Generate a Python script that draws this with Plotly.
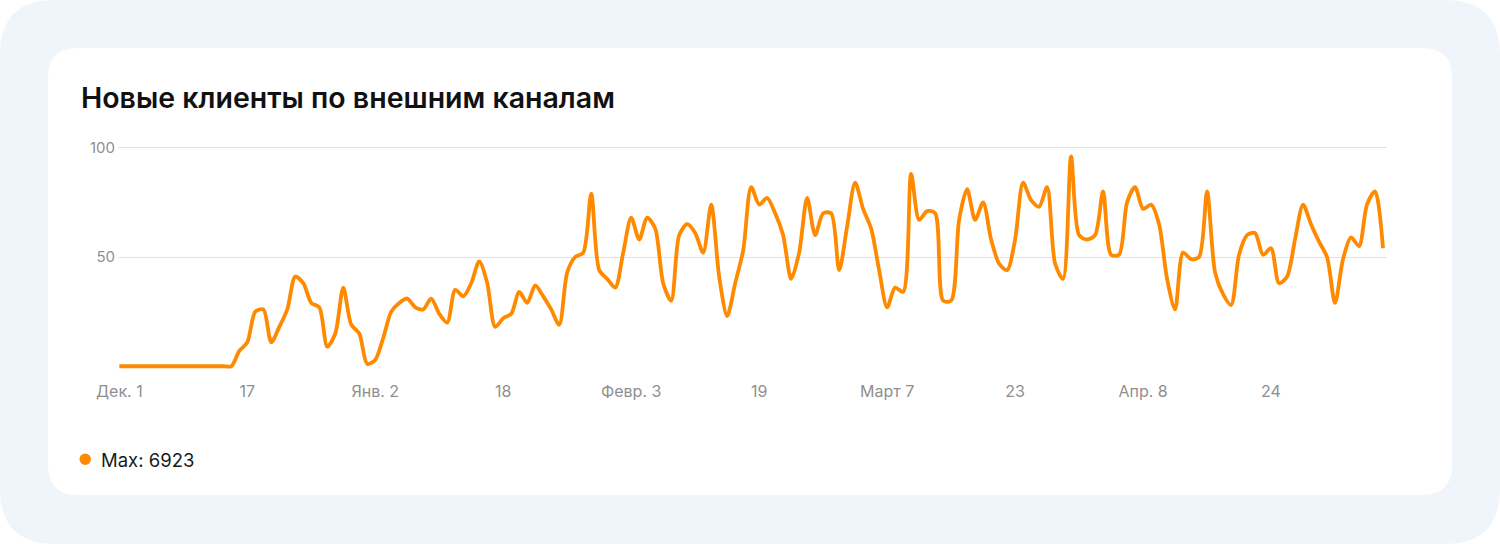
import pandas as pd
import plotly.graph_objects as go

# daily values, Dec 1 2022 .. May 8 2023
start_date = "2022-12-01"
values = [
    0, 0, 0, 0, 0, 0, 0, 0, 0, 0, 0, 0, 0, 0, 0,
    7, 11, 25, 26, 11, 18, 26, 41, 38, 29, 27, 9, 15, 36, 19,
    15, 1, 3, 13, 25, 29, 31, 27, 26, 31, 24, 20, 35, 32, 38,
    48, 38, 18, 22, 24, 34, 29, 37, 32, 26, 19, 43, 50, 52, 79,
    44, 40, 36, 52, 68, 58, 68, 63, 38, 30, 60, 65, 61, 52, 74,
    41, 23, 38, 53, 82, 74, 77, 70, 60, 40, 52, 77, 60, 70, 70,
    44, 64, 84, 72, 63, 44, 27, 36, 34, 88, 67, 71, 70, 30, 30,
    67, 81, 67, 75, 58, 47, 44, 58, 84, 76, 73, 82, 47, 40, 96,
    60, 58, 60, 80, 51, 51, 75, 82, 72, 74, 65, 40, 26, 52, 49,
    50, 80, 43, 33, 28, 51, 60, 61, 51, 54, 38, 41, 58, 74, 65,
    57, 50, 29, 49, 59, 55, 74, 80, 54,
]
dates = pd.date_range(start_date, periods=len(values), freq="D")

tick_dates = ["2022-12-01", "2022-12-17", "2023-01-02", "2023-01-18", "2023-02-03",
              "2023-02-19", "2023-03-07", "2023-03-23", "2023-04-08", "2023-04-24"]
tick_text = ["Дек. 1", "17", "Янв. 2", "18", "Февр. 3", "19", "Март 7", "23", "Апр. 8", "24"]
y_ticks = [50, 100]
title = "Новые клиенты по внешним каналам"
legend_text = "Max: 6923"

W, H = 1500, 544
L, R, T, B = 118, 113, 139, 169
FONT = "Inter, Noto Sans, sans-serif"
ORANGE = "#FF8A00"


def px(x):
    return (x - L) / (W - L - R)


def py(y):
    return (H - B - y) / (H - T - B)


def rounded(x0, y0, x1, y1, r):
    # rounded rectangle in pixels -> path in paper coords
    pts = [
        ("M", x0 + r, y0), ("L", x1 - r, y0), ("Q", x1, y0, x1, y0 + r),
        ("L", x1, y1 - r), ("Q", x1, y1, x1 - r, y1),
        ("L", x0 + r, y1), ("Q", x0, y1, x0, y1 - r),
        ("L", x0, y0 + r), ("Q", x0, y0, x0 + r, y0),
    ]
    out = ""
    for p in pts:
        cmd, coords = p[0], p[1:]
        pairs = []
        for i in range(0, len(coords), 2):
            pairs.append(f"{px(coords[i]):.5f},{py(coords[i + 1]):.5f}")
        out += cmd + " ".join(pairs) + " "
    return out + "Z"


fig = go.Figure()
fig.add_trace(go.Scatter(
    x=dates, y=values, mode="lines",
    line=dict(color=ORANGE, width=3.8, shape="spline", smoothing=0.8),
    hoverinfo="x+y", showlegend=False,
))

shapes = [
    dict(type="path", xref="paper", yref="paper", path=rounded(0, 0, W, H, 55),
         fillcolor="#F0F5FC", line_width=0, layer="below"),
    dict(type="path", xref="paper", yref="paper", path=rounded(48, 48, 1452, 495, 30),
         fillcolor="#FFFFFF", line_width=0, layer="below"),
    dict(type="circle", xref="paper", yref="paper",
         x0=px(79.5), x1=px(91), y0=py(453.5), y1=py(465),
         fillcolor=ORANGE, line_width=0),
]

annotations = [
    dict(text=title, xref="paper", yref="paper", x=px(79), y=py(97),
         xanchor="left", yanchor="middle", showarrow=False,
         font=dict(family=FONT, size=28.5, color="#111111", weight=600)),
    dict(text=legend_text, xref="paper", yref="paper", x=px(99), y=py(460),
         xanchor="left", yanchor="middle", showarrow=False,
         font=dict(family=FONT, size=18.5, color="#1a1a1a")),
]

d0 = pd.Timestamp(start_date)
fig.update_layout(
    width=W, height=H,
    margin=dict(l=L, r=R, t=T, b=B),
    paper_bgcolor="#FFFFFF",
    plot_bgcolor="rgba(0,0,0,0)",
    shapes=shapes,
    annotations=annotations,
    font=dict(family=FONT, size=14, color="#8f8f8f"),
    xaxis=dict(
        range=[d0 - pd.Timedelta(hours=4), d0 + pd.Timedelta(days=158.5)],
        tickvals=tick_dates, ticktext=tick_text,
        showgrid=False, zeroline=False, showline=False, ticks="",
        ticklabelstandoff=5,
        tickfont=dict(size=16, color="#8f8f8f"),
    ),
    yaxis=dict(
        range=[-4, 104],
        tickvals=y_ticks,
        showgrid=True, gridcolor="#e3e3e3", gridwidth=1,
        zeroline=False, showline=False, ticks="",
        ticklabelstandoff=2,
        tickfont=dict(size=15, color="#8f8f8f"),
    ),
)

# the page's default body margin would shift the figure by 8px
fig.write_html("out.html", config={"displayModeBar": False},
               post_script="document.body.style.margin='0';")
